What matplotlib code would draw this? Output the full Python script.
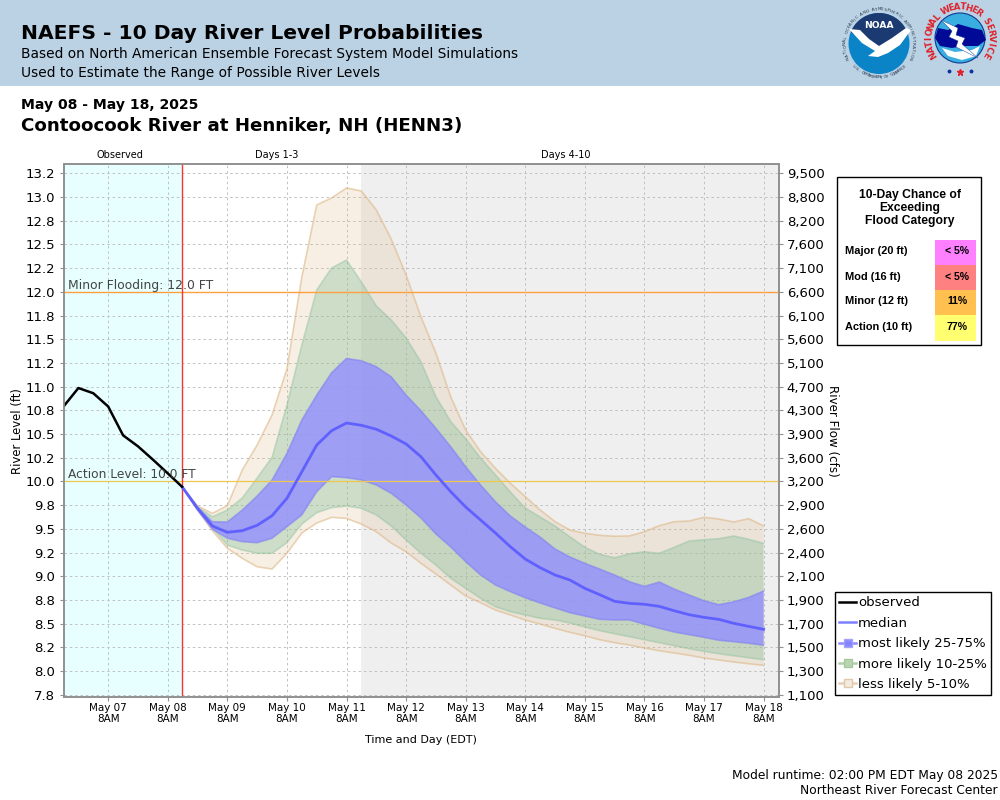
import numpy as np
import pandas as pd
import matplotlib
matplotlib.use("Agg")
import matplotlib.pyplot as plt
import matplotlib.dates as mdates
from matplotlib.lines import Line2D
from matplotlib.patches import Circle, Polygon, Rectangle
from matplotlib.ticker import FormatStrFormatter

# river level (ft)
obs_times = pd.to_datetime(["2025-05-06 14:00", "2025-05-06 20:00", "2025-05-07 02:00",
                            "2025-05-07 08:00", "2025-05-07 14:00", "2025-05-07 20:00",
                            "2025-05-08 02:00", "2025-05-08 08:00", "2025-05-08 13:45"])
observed = [10.79, 10.985, 10.93, 10.79, 10.486, 10.37, 10.23, 10.085, 9.944]

fcst_times = pd.to_datetime(["2025-05-08 13:45"]).append(
    pd.date_range("2025-05-08 20:00", "2025-05-18 08:00", freq="6h"))

median = [9.944, 9.716, 9.53, 9.463, 9.48, 9.537, 9.638, 9.822, 10.102, 10.384,
          10.535, 10.616, 10.592, 10.55, 10.479, 10.395, 10.26, 10.068, 9.891, 9.73,
          9.593, 9.456, 9.311, 9.181, 9.09, 9.013, 8.96, 8.872, 8.805, 8.735,
          8.714, 8.704, 8.682, 8.636, 8.594, 8.566, 8.545, 8.503, 8.471, 8.44]
p75 = [9.944, 9.727, 9.575, 9.572, 9.698, 9.846, 10.015, 10.296, 10.648, 10.911,
       11.147, 11.298, 11.273, 11.21, 11.104, 10.911, 10.746, 10.56, 10.366, 10.155,
       9.962, 9.786, 9.635, 9.519, 9.413, 9.287, 9.203, 9.136, 9.076, 9.013,
       8.942, 8.893, 8.939, 8.865, 8.802, 8.742, 8.70, 8.731, 8.777, 8.844]
p25 = [9.944, 9.698, 9.495, 9.40, 9.364, 9.353, 9.40, 9.522, 9.646, 9.891,
       10.05, 10.039, 10.015, 9.962, 9.874, 9.751, 9.614, 9.445, 9.308, 9.153,
       9.013, 8.907, 8.837, 8.773, 8.717, 8.665, 8.615, 8.58, 8.545, 8.538,
       8.538, 8.493, 8.45, 8.411, 8.383, 8.355, 8.324, 8.309, 8.292, 8.271]
p90 = [9.944, 9.73, 9.628, 9.698, 9.825, 10.036, 10.254, 10.806, 11.439, 12.019,
       12.251, 12.335, 12.103, 11.85, 11.703, 11.513, 11.26, 10.893, 10.63, 10.45,
       10.247, 10.068, 9.888, 9.719, 9.624, 9.53, 9.415, 9.305, 9.231, 9.195,
       9.237, 9.258, 9.242, 9.305, 9.371, 9.385, 9.396, 9.424, 9.389, 9.347]
p10 = [9.944, 9.706, 9.508, 9.329, 9.276, 9.242, 9.242, 9.353, 9.55, 9.67,
       9.723, 9.74, 9.716, 9.646, 9.53, 9.382, 9.242, 9.118, 8.978, 8.872,
       8.767, 8.678, 8.626, 8.591, 8.556, 8.538, 8.506, 8.464, 8.425, 8.393,
       8.362, 8.33, 8.299, 8.267, 8.235, 8.208, 8.182, 8.161, 8.14, 8.119]
p95 = [9.944, 9.74, 9.663, 9.744, 10.12, 10.384, 10.70, 11.186, 12.156, 12.916,
       12.99, 13.095, 13.063, 12.863, 12.557, 12.177, 11.734, 11.354, 10.89, 10.542,
       10.313, 10.138, 9.98, 9.839, 9.698, 9.575, 9.487, 9.453, 9.431, 9.421,
       9.425, 9.469, 9.533, 9.575, 9.582, 9.621, 9.603, 9.572, 9.607, 9.53]
p05 = [9.944, 9.698, 9.48, 9.294, 9.189, 9.10, 9.076, 9.242, 9.456, 9.561,
       9.621, 9.61, 9.55, 9.469, 9.35, 9.258, 9.136, 9.023, 8.907, 8.791,
       8.72, 8.643, 8.591, 8.538, 8.496, 8.45, 8.408, 8.372, 8.33, 8.299,
       8.274, 8.243, 8.214, 8.19, 8.166, 8.137, 8.116, 8.095, 8.077, 8.06]

stage_ticks = np.arange(7.75, 13.5, 0.25)
flow_labels = ["1,100", "1,300", "1,500", "1,700", "1,900", "2,100", "2,400", "2,600",
               "2,900", "3,200", "3,600", "3,900", "4,300", "4,700", "5,100", "5,600",
               "6,100", "6,600", "7,100", "7,600", "8,200", "8,800", "9,500"]
day_ticks = pd.date_range("2025-05-07 08:00", "2025-05-18 08:00", freq="D")

flood_names = ["Major (20 ft)", "Mod (16 ft)", "Minor (12 ft)", "Action (10 ft)"]
flood_chance = ["< 5%", "< 5%", "11%", "77%"]
flood_colors = ["#ff80ff", "#ff8080", "#ffc050", "#ffff70"]

action_level = 10.0
minor_level = 12.0

C_BLUE = "#9490ff"
C_GREEN = "#82be96"
C_TAN = "#deb887"

fig = plt.figure(figsize=(10, 8), dpi=100)
ax = fig.add_axes([0.0635, 1 - 697 / 800, 0.715, 533 / 800])

t0, t1 = pd.Timestamp("2025-05-06 14:00"), pd.Timestamp("2025-05-18 14:00")
ax.axvspan(t0, fcst_times[0], color="#e8ffff", lw=0, zorder=0)
ax.axvspan(pd.Timestamp("2025-05-11 14:00"), t1, color="#efefef", lw=0, zorder=0)
ax.grid(True, color="#c0c0c0", ls=(0, (2.5, 3)), lw=0.7, zorder=0.5)
ax.set_axisbelow(True)

ax.fill_between(fcst_times, p05, p95, facecolor=C_TAN, alpha=0.22, lw=0, zorder=2)
ax.fill_between(fcst_times, p10, p90, facecolor=C_GREEN, alpha=0.35, lw=0, zorder=2.1)
ax.fill_between(fcst_times, p25, p75, facecolor=C_BLUE, alpha=0.82, lw=0, zorder=2.2)
for band, col, a, z in [(p05, C_TAN, 0.6, 2.05), (p95, C_TAN, 0.6, 2.05),
                        (p10, C_GREEN, 0.4, 2.15), (p90, C_GREEN, 0.4, 2.15),
                        (p25, "#7878f4", 0.5, 2.25), (p75, "#7878f4", 0.5, 2.25)]:
    ax.plot(fcst_times, band, color=col, alpha=a, lw=1.2, zorder=z)

ax.axhline(action_level, color="#ecc850", lw=0.9, zorder=3)
ax.axhline(minor_level, color="#ffa040", lw=1, zorder=3)
ax.axvline(fcst_times[0], color="#ff3030", lw=1, zorder=3)
ax.plot(fcst_times, median, color="#6060ff", lw=2, zorder=4)
ax.plot(obs_times, observed, color="black", lw=1.8, zorder=4.5)

ax.annotate(f"Action Level: {action_level:.1f} FT", (t0, action_level), xytext=(3, 0),
            textcoords="offset points", fontsize=8.8, color="#444444", va="bottom", zorder=5)
ax.annotate(f"Minor Flooding: {minor_level:.1f} FT", (t0, minor_level), xytext=(3, 0),
            textcoords="offset points", fontsize=8.9, color="#444444", va="bottom", zorder=5)

ax.set_xlim(t0, t1)
ax.set_ylim(7.726, 13.348)
ax.set_yticks(stage_ticks)
ax.yaxis.set_major_formatter(FormatStrFormatter("%.1f"))
ax.set_xticks(day_ticks)
ax.xaxis.set_major_formatter(mdates.DateFormatter("%b %d\n8AM"))
ax.tick_params(axis="y", labelsize=9.5, length=3, color="#909090", pad=3)
ax.tick_params(axis="x", labelsize=7.5, length=3, color="#909090", pad=1)
for s in ax.spines.values():
    s.set_color("#909090")
    s.set_linewidth(1.2)

ax2 = ax.twinx()
ax2.set_ylim(ax.get_ylim())
ax2.set_yticks(stage_ticks)
ax2.set_yticklabels(flow_labels)
ax2.tick_params(axis="y", labelsize=9.5, length=3, color="#909090", pad=3)
for s in ax2.spines.values():
    s.set_color("#909090")
    s.set_linewidth(1.2)

# pixel space overlay for the header, side box and logos
ov = fig.add_axes([0, 0, 1, 1], zorder=10)
ov.set_xlim(0, 1000)
ov.set_ylim(800, 0)
ov.axis("off")

ov.add_patch(Rectangle((0, 0), 1000, 86, facecolor="#bbd2e5", lw=0, zorder=0))
ov.text(21, 33.5, "NAEFS - 10 Day River Level Probabilities", fontsize=14.6, fontweight="bold", va="center")
ov.text(21, 54, "Based on North American Ensemble Forecast System Model Simulations", fontsize=9.95, va="center")
ov.text(21, 73, "Used to Estimate the Range of Possible River Levels", fontsize=9.95, va="center")
ov.text(21, 105, "May 08 - May 18, 2025", fontsize=10.1, fontweight="bold", va="center")
ov.text(21, 126, "Contoocook River at Henniker, NH (HENN3)", fontsize=13.15, fontweight="bold", va="center")

ov.text(120, 154.5, "Observed", fontsize=7, ha="center", va="center")
ov.text(276.5, 154.5, "Days 1-3", fontsize=7, ha="center", va="center")
ov.text(566, 154.5, "Days 4-10", fontsize=7, ha="center", va="center")

ov.text(18, 431, "River Level (ft)", fontsize=8.4, rotation=90, ha="center", va="center")
ov.text(832, 431, "River Flow (cfs)", fontsize=8.6, rotation=270, ha="center", va="center")
ov.text(421, 740, "Time and Day (EDT)", fontsize=8, ha="center", va="center")
ov.text(998, 775, "Model runtime: 02:00 PM EDT May 08 2025", fontsize=8.8, ha="right", va="center")
ov.text(998, 791, "Northeast River Forecast Center", fontsize=8.8, ha="right", va="center")

# flood category box
ov.add_patch(Rectangle((836.5, 176.5), 144, 168.5, facecolor="white", edgecolor="black", lw=1))
ov.text(910, 208, "10-Day Chance of\nExceeding\nFlood Category", family="Liberation Sans",
        fontsize=8.7, fontweight="bold", ha="center", va="center", linespacing=1.15)
for i, (name, chance, col) in enumerate(zip(flood_names, flood_chance, flood_colors)):
    ov.add_patch(Rectangle((935, 240 + 25 * i), 41, 25.5, facecolor=col, lw=0))
    ov.text(845, 251.5 + 25 * i, name, family="Liberation Sans", fontsize=7.9,
            fontweight="bold", va="center")
    ov.text(957, 251.5 + 25 * i, chance, family="Liberation Sans", fontsize=7.6,
            fontweight="bold", ha="center", va="center")

# legend
handles = [
    Line2D([], [], color="black", lw=1.8),
    Line2D([], [], color="#8080ff", lw=1.8),
    Line2D([], [], color="#8080ff", lw=1.8, alpha=0.9, marker="s", ms=5.5, mfc="#8080ff", mec="#a0a0ff"),
    Line2D([], [], color="#b0d0a8", lw=1.8, marker="s", ms=5.5, mfc="#b8d4b0", mec="#a8c8a0"),
    Line2D([], [], color="#e8d0b8", lw=1.8, marker="s", ms=5.5, mfc="#f3ebe0", mec="#e0c8a8"),
]
ov.legend(handles, ["observed", "median", "most likely 25-75%", "more likely 10-25%", "less likely 5-10%"],
          loc="lower left", bbox_to_anchor=(0.8353, 1 - 695 / 800), bbox_transform=fig.transFigure,
          borderaxespad=0, fontsize=9.55, fancybox=False, framealpha=1, edgecolor="black",
          handlelength=1.25, handletextpad=0.15, borderpad=0.3, labelspacing=0.56)


def ring_text(text, cx, cy, r, a0, a1, bottom=False, **kw):
    # one letter at a time round a circle
    for ch, a in zip(text, np.radians(np.linspace(a0, a1, len(text)))):
        rot = np.degrees(a) + (90 if bottom else -90)
        ov.text(cx + r * np.cos(a), cy - r * np.sin(a), ch, rotation=rot, rotation_mode="anchor",
                ha="center", va="center", **kw)


# NOAA logo
nx, ny = 879, 43.5
ov.add_patch(Circle((nx, ny), 30.5, facecolor="#0a84c6", lw=0))
arc = np.radians(np.linspace(158, 22, 30))
top = np.c_[nx + 30.5 * np.cos(arc), ny - 30.5 * np.sin(arc)]
ov.add_patch(Polygon(np.vstack([top, [[905, 33], [897, 41], [879, 51], [862, 40], [852, 33]]]),
                     facecolor="#1c3a72", lw=0))
ov.add_patch(Polygon([[849, 29], [860, 30], [869, 39], [879, 46], [892, 38], [906, 28], [911, 30],
                      [900, 45], [888, 53], [878, 57], [868, 56], [875, 51], [862, 43]],
                     facecolor="white", lw=0))
ov.text(nx, 26, "NOAA", color="white", fontsize=6.6, fontweight="bold", ha="center", va="center")
ring_text("NATIONAL OCEANIC AND ATMOSPHERIC ADMINISTRATION", nx, ny, 34, 205, -25,
          fontsize=3.1, color="#2c3a50")
ring_text("U.S. DEPARTMENT OF COMMERCE", nx, ny, 34, 222, 318, bottom=True,
          fontsize=3.1, color="#2c3a50")

# NWS logo
wx, wy = 960, 38
ov.add_patch(Circle((wx, wy), 25, facecolor="#3aaee0", edgecolor="#103a90", lw=0.8))
ov.add_patch(Polygon([[935, 38], [938, 28], [948, 30], [958, 24], [972, 28], [982, 30], [986, 40],
                      [978, 46], [964, 46], [952, 48], [940, 46]], facecolor="#000a96", lw=0))
ov.add_patch(Polygon([[942, 48], [955, 52], [972, 50], [980, 46], [976, 56], [962, 60], [948, 56]],
                     facecolor="white", lw=0))
ov.add_patch(Polygon([[941, 20], [958, 28], [956, 35], [965, 38], [962, 44], [978, 58], [956, 47],
                      [958, 41], [949, 37], [952, 31]], facecolor="white", edgecolor="#103a90", lw=0.3))
ring_text("NATIONAL WEATHER SERVICE", wx, wy, 31, 212, -32,
          fontsize=6.2, fontweight="bold", color="#e0202a")
ov.plot([949, 971], [71, 71], ls="", marker="o", ms=1.8, color="#1030a0")
ov.plot([960], [72], ls="", marker="*", ms=4.5, color="#e0202a")

fig.savefig("out.png", dpi=100)
plt.close(fig)
